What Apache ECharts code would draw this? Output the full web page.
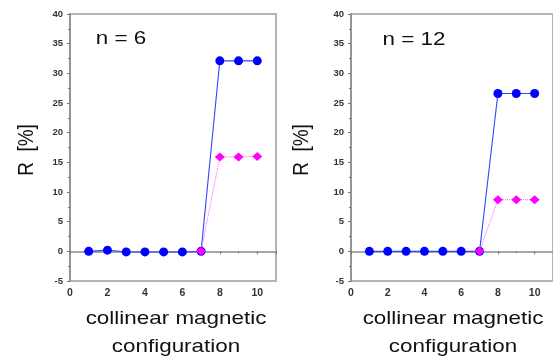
<!DOCTYPE html>
<html><head><meta charset="utf-8">
<script src="https://cdn.jsdelivr.net/npm/echarts@6/dist/echarts.min.js"></script>
<style>html,body{margin:0;padding:0;background:#fff}#c{width:553px;height:356px}</style>
</head><body><div id="c"></div>
<script>
const configs = [1,2,3,4,5,6,7,8,9,10];
const blueN6 = [0, 0.2, -0.1, -0.1, -0.1, -0.1, 0, 32.1, 32.1, 32.1];
const pinkN6X = [7, 8, 9, 10];
const pinkN6 = [0, 15.9, 15.9, 16.0];
const blueN12 = [0, 0, 0, 0, 0, 0, 0, 26.6, 26.6, 26.6];
const pinkN12X = [7, 8, 9, 10];
const pinkN12 = [0, 8.7, 8.7, 8.7];
const panelTitles = ['n = 6', 'n = 12'];
const yName = 'R  [%]';
const xName1 = 'collinear magnetic';
const xName2 = 'configuration';

const chart = echarts.init(document.getElementById('c'), null, {renderer:'canvas'});
const grids = [
  {left:70, top:14, width:206, height:267},
  {left:351, top:14, width:206, height:267}
];
function xAx(i){return {gridIndex:i,type:'value',min:0,max:11,interval:2,
  axisLine:{show:true,lineStyle:{color:'#8a8a8a',width:1.5}},
  axisTick:{show:true,inside:false,length:3,lineStyle:{color:'#777'}},
  minorTick:{show:true,splitNumber:2,length:2,lineStyle:{color:'#777'}},
  axisLabel:{showMaxLabel:false,color:'#333',fontSize:10.5,fontWeight:'bold',fontFamily:'Liberation Sans',margin:7},
  splitLine:{show:false}};}
function yAx(i){return {gridIndex:i,type:'value',min:-5,max:40,interval:5,
  axisLine:{show:true,lineStyle:{color:'#8a8a8a',width:1.5}},
  axisTick:{show:true,inside:false,length:3,lineStyle:{color:'#777'}},
  minorTick:{show:true,splitNumber:2,length:2,lineStyle:{color:'#777'}},
  axisLabel:{color:'#333',fontSize:9.5,fontWeight:'bold',fontFamily:'Liberation Sans',margin:7},
  splitLine:{show:false}};}
function zip(xs, ys){return xs.map((x,k)=>[x, ys[k]]);}
const txt = (x,y,t,rot)=>({type:'text',x:x,y:y,rotation:rot||0,scaleX:rot?1:1.18,scaleY:rot?1.18:1,
  style:{text:t,fill:'#111',font:'19px "Liberation Sans"',textAlign:'center',textVerticalAlign:'middle'}});
const option = {
  animation:false,
  grid: grids.map(g=>Object.assign({show:true,borderColor:'#b5b5b5',borderWidth:2,backgroundColor:'transparent'},g)),
  xAxis:[xAx(0),xAx(1)],
  yAxis:[yAx(0),yAx(1)],
  series:[
    {type:'line',xAxisIndex:0,yAxisIndex:0,data:zip(configs,blueN6),symbol:'circle',symbolSize:9,
      itemStyle:{color:'#0000ff'},lineStyle:{color:'#3344ff',width:1.1},z:2},
    {type:'line',xAxisIndex:0,yAxisIndex:0,data:zip(pinkN6X,pinkN6),symbol:'diamond',symbolSize:[10,9],
      itemStyle:{color:'#ff00ff'},lineStyle:{color:'#ff55ff',width:1,type:'dotted'},z:3},
    {type:'line',xAxisIndex:1,yAxisIndex:1,data:zip(configs,blueN12),symbol:'circle',symbolSize:9,
      itemStyle:{color:'#0000ff'},lineStyle:{color:'#3344ff',width:1.1},z:2},
    {type:'line',xAxisIndex:1,yAxisIndex:1,data:zip(pinkN12X,pinkN12),symbol:'diamond',symbolSize:[10,9],
      itemStyle:{color:'#ff00ff'},lineStyle:{color:'#ff55ff',width:1,type:'dotted'},z:3}
  ],
  graphic:[
    txt(121,39,panelTitles[0]),
    txt(414,40,panelTitles[1]),
    txt(27,150,yName,Math.PI/2),
    txt(302,150,yName,Math.PI/2),
    txt(176,319,xName1),
    txt(176,347,xName2),
    txt(453,319,xName1),
    txt(453,347,xName2)
  ]
};
chart.setOption(option);
</script></body></html>
